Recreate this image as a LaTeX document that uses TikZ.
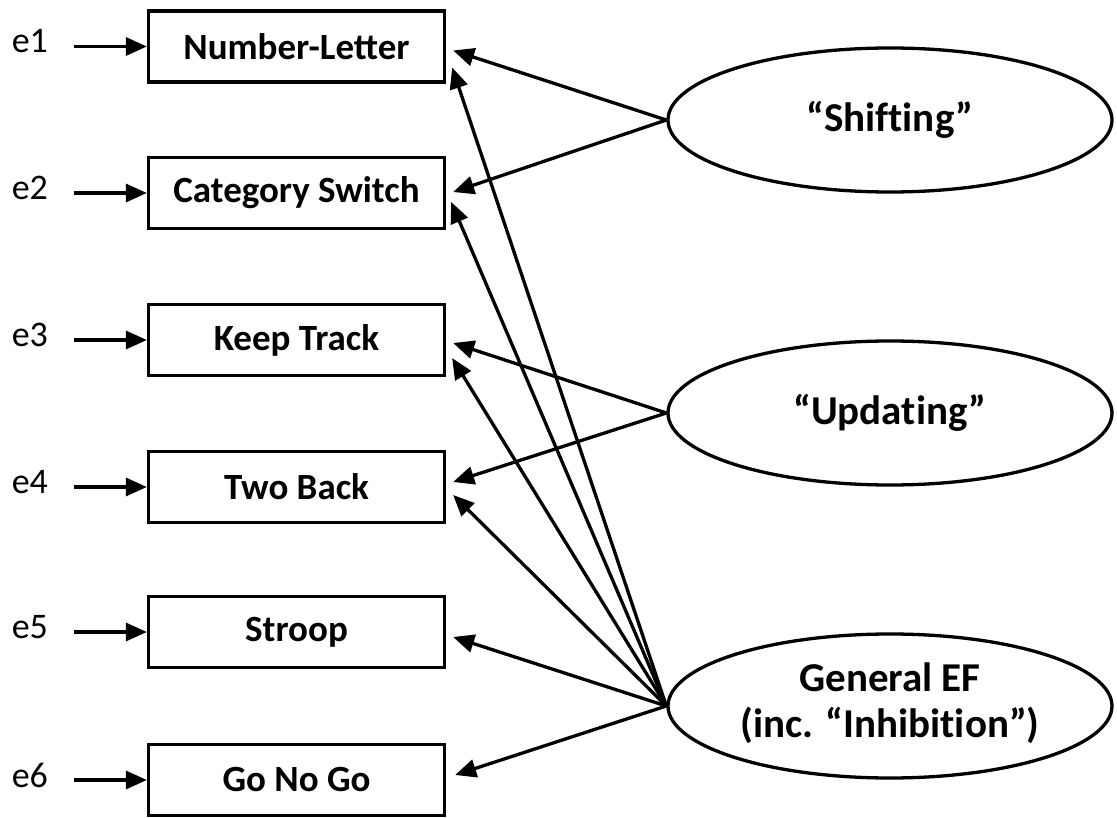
\documentclass[tikz,border=0pt]{standalone}
\usepackage{fontspec}
\setmainfont{Carlito}
\usetikzlibrary{arrows.meta,shapes.geometric,calc}
% \nolig breaks the font's t-i / f-t ligatures
\newcommand{\nolig}{\kern0pt{}}
\begin{document}
\begin{tikzpicture}[x=1pt,y=-1pt,
  line width=3.3pt,
  task/.style={draw,rectangle,minimum width=296pt,minimum height=71pt,inner sep=0pt,
    font=\fontsize{37}{44}\selectfont\bfseries},
  factor/.style={draw,ellipse,minimum width=444pt,minimum height=144pt,inner sep=0pt,
    align=center,font=\fontsize{41}{46}\selectfont\bfseries},
  err/.style={font=\fontsize{36}{40}\selectfont},
  arr/.style={-{Triangle[length=21pt,width=18pt]}}]
\useasboundingbox (0,0) rectangle (1117,818);

% observed tasks
\node[task] (nl) at (296.5,46.5) {Number-Letter};
\node[task] (cs) at (296.5,193)  {Category Switch};
\node[task] (kt) at (296.5,340)  {Keep Track};
\node[task] (tb) at (296.5,487)  {Two Back};
\node[task] (st) at (296.5,632)  {Stroop};
\node[task] (gg) at (296.5,780)  {Go No Go};

% latent factors
\node[factor] (sh) at (890,120) {“Shif\nolig t\nolig ing”};
\node[factor] (up) at (890,413) {“Updat\nolig ing”};
\node[factor] (ge) at (890,706) {General EF\\(inc. “Inhibit\nolig ion”)\\[-34pt]};

% error terms
\foreach \n/\b in {e1/nl,e2/cs,e3/kt,e4/tb,e5/st,e6/gg}{
  \node[err] (\n) at ($(\b.west)+(-117,-5)$) {\n};
  \draw[arr] ($(\b.west)+(-73,0)$) -- (\b.west);
}

% shifting loadings
\draw[arr] (sh.west) -- ($(nl.east)+(7,4)$);
\draw[arr] (sh.west) -- ($(cs.east)+(7,-1)$);
% updating loadings
\draw[arr] (up.west) -- ($(kt.east)+(7,3)$);
\draw[arr] (up.west) -- ($(tb.east)+(7,-5)$);
% general loadings
\draw[arr] (ge.west) -- ($(nl.east)+(6,21)$);
\draw[arr] (ge.west) -- ($(cs.east)+(5,9)$);
\draw[arr] (ge.west) -- ($(kt.east)+(6,18)$);
\draw[arr] (ge.west) -- ($(tb.east)+(7,8)$);
\draw[arr] (ge.west) -- ($(st.east)+(7,5)$);
\draw[arr] (ge.west) -- ($(gg.east)+(9,-5)$);
\end{tikzpicture}
\end{document}
